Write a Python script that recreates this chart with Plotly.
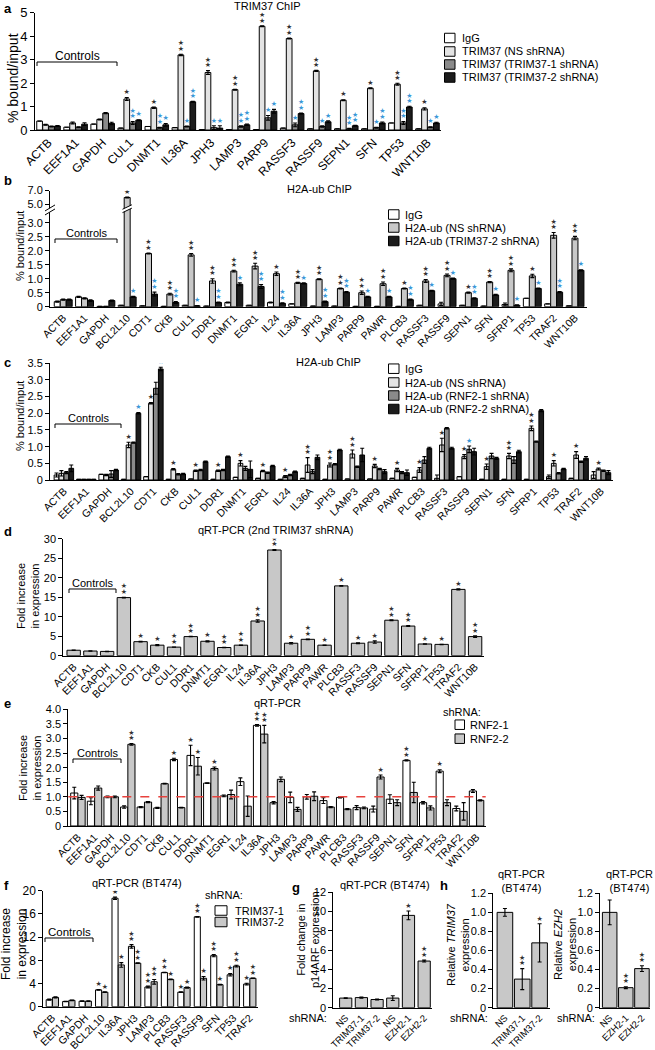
import numpy as np
import plotly.graph_objects as go

# ---------------- data ----------------
# Panel a: TRIM37 ChIP
a_cats = ["ACTB", "EEF1A1", "GAPDH", "CUL1", "DNMT1", "IL36A", "JPH3", "LAMP3", "PARP9",
          "RASSF3", "RASSF9", "SEPN1", "SFN", "TP53", "WNT10B"]
a_igg = [0.38, 0.12, 0.25, 0.08, 0.15, 0.10, 0.02, 0.02, 0.02, 0.08, 0.05, 0.05, 0.05, 0.30, 0.05]
a_ns = [0.22, 0.30, 0.45, 1.32, 0.95, 3.20, 2.45, 1.72, 4.42, 3.90, 2.52, 1.27, 1.78, 1.95, 0.90]
a_t1 = [0.15, 0.12, 0.72, 0.30, 0.10, 0.15, 0.10, 0.15, 0.52, 0.22, 0.15, 0.05, 0.10, 0.30, 0.12]
a_t2 = [0.17, 0.25, 0.28, 0.42, 0.22, 1.20, 0.08, 0.22, 0.80, 0.70, 0.35, 0.18, 0.30, 0.98, 0.30]
a_igg_err = [0.0] * 15
a_ns_err = [0.02, 0.04, 0.02, 0.06, 0.03, 0.03, 0.08, 0.02, 0.02, 0.02, 0.02, 0.02, 0.02, 0.04, 0.05]
a_t1_err = [0.02, 0.02, 0.02, 0.06, 0.02, 0.02, 0.08, 0.03, 0.10, 0.08, 0.03, 0.02, 0.02, 0.06, 0.02]
a_t2_err = [0.02, 0.06, 0.05, 0.02, 0.06, 0.02, 0.10, 0.03, 0.08, 0.02, 0.04, 0.02, 0.04, 0.03, 0.03]
a_ns_sig = ["", "", "", "*", "*", "**", "**", "**", "**", "**", "**", "*", "*", "**", "*"]
a_t1_sig = ["", "", "", "**", "**", "*", "*", "**", "*", "*", "*", "**", "*", "**", "*"]
a_t2_sig = ["", "", "", "*", "*", "**", "*", "**", "*", "**", "*", "**", "**", "**", "*"]

# Panels b, c, d, e share gene list
bc_cats = ["ACTB", "EEF1A1", "GAPDH", "BCL2L10", "CDT1", "CKB", "CUL1", "DDR1", "DNMT1", "EGR1",
           "IL24", "IL36A", "JPH3", "LAMP3", "PARP9", "PAWR", "PLCB3", "RASSF3", "RASSF9",
           "SEPN1", "SFN", "SFRP1", "TP53", "TRAF2", "WNT10B"]

# Panel b: H2A-ub ChIP (TRIM37 knockdown)
b_igg = [0.18, 0.35, 0.01, 0.05, 0.03, 0.01, 0.05, 0.02, 0.15, 0.05, 0.15, 0.10, 0.02, 0.02, 0.01,
         0.01, 0.01, 0.05, 0.10, 0.05, 0.02, 0.08, 0.30, 0.10, 0.03]
b_ns = [0.25, 0.30, 0.01, 6.00, 1.90, 0.45, 1.85, 0.92, 1.27, 1.45, 1.18, 0.85, 0.98, 0.65, 0.50,
        0.82, 0.65, 0.92, 1.12, 0.50, 0.88, 1.30, 1.10, 2.55, 2.45]
b_t2 = [0.25, 0.22, 0.22, 0.35, 0.45, 0.15, 0.03, 0.15, 0.80, 0.72, 0.12, 0.83, 0.18, 0.52, 0.35,
        0.35, 0.25, 0.57, 1.00, 0.30, 0.42, 0.05, 0.65, 0.52, 1.30]
b_igg_err = [0.02, 0.02, 0, 0, 0, 0, 0, 0, 0.02, 0, 0.02, 0, 0, 0, 0, 0, 0, 0, 0.06, 0, 0, 0.05, 0, 0, 0]
b_ns_err = [0.02, 0.02, 0, 0.05, 0.02, 0.03, 0.05, 0.08, 0.03, 0.10, 0.06, 0.02, 0.02, 0.02, 0.06,
            0.06, 0.02, 0.05, 0.05, 0.02, 0.02, 0.05, 0.06, 0.10, 0.06]
b_t2_err = [0.02, 0.03, 0.02, 0.02, 0.07, 0.03, 0.01, 0.02, 0.05, 0.07, 0.02, 0.02, 0.02, 0.02, 0.02,
            0.02, 0.02, 0.02, 0.02, 0.02, 0.02, 0.02, 0.02, 0.02, 0.02]
b_ns_sig = ["", "", "", "**", "**", "**", "**", "**", "**", "**", "*", "**", "**", "**", "**", "**",
            "*", "**", "**", "*", "**", "**", "*", "**", "**"]
b_t2_sig = ["", "", "", "*", "**", "**", "*", "**", "*", "**", "**", "*", "**", "**", "*", "*",
            "**", "*", "*", "**", "*", "*", "*", "**", "*"]

# Panel c: H2A-ub ChIP (RNF2 knockdown)
c_igg = [0.15, 0.02, 0.17, 0.02, 0.10, 0.02, 0.03, 0.02, 0.08, 0.05, 0.02, 0.05, 0.02, 0.03, 0.03,
         0.05, 0.08, 0.05, 0.10, 0.02, 0.02, 0.02, 0.10, 0.05, 0.15]
c_ns = [0.20, 0.02, 0.15, 1.05, 2.30, 0.32, 0.28, 0.28, 0.50, 0.27, 0.10, 0.45, 0.45, 0.78, 0.42,
        0.30, 0.30, 1.05, 0.70, 0.40, 0.72, 1.55, 0.50, 0.75, 0.33]
c_r1 = [0.22, 0.02, 0.18, 1.12, 2.75, 0.17, 0.30, 0.30, 0.35, 0.22, 0.15, 0.25, 0.47, 0.40, 0.33,
        0.22, 0.60, 1.55, 0.92, 0.72, 0.60, 1.15, 0.20, 0.55, 0.28]
c_r2 = [0.35, 0.02, 0.30, 2.00, 3.33, 0.18, 0.55, 0.70, 0.32, 0.42, 0.25, 0.68, 0.90, 0.75, 0.25,
        0.22, 0.95, 0.95, 0.85, 0.65, 0.85, 2.08, 0.33, 0.65, 0.22]
c_igg_err = [0.06, 0, 0, 0, 0, 0, 0, 0, 0, 0, 0, 0, 0, 0, 0, 0, 0, 0.10, 0, 0, 0, 0, 0.05, 0, 0.10]
c_ns_err = [0.08, 0, 0.02, 0.08, 0.02, 0.02, 0.02, 0.02, 0.08, 0.02, 0.03, 0.22, 0.06, 0.12, 0.05,
            0.05, 0.07, 0.20, 0.06, 0.08, 0.08, 0.07, 0.08, 0.10, 0.03]
c_r1_err = [0.03, 0, 0.10, 0.02, 0.18, 0.02, 0.02, 0.02, 0.06, 0.02, 0.02, 0.06, 0.02, 0.02, 0.02,
            0.03, 0.10, 0.02, 0.10, 0.08, 0.10, 0.02, 0.02, 0.02, 0.02]
c_r2_err = [0.10, 0, 0.02, 0.02, 0.05, 0.02, 0.02, 0.02, 0.25, 0.02, 0.02, 0.07, 0.02, 0.20, 0.06,
            0.08, 0.03, 0.03, 0.10, 0.03, 0.04, 0.03, 0.02, 0.05, 0.06]
c_ns_sig = ["", "", "", "*", "*", "*", "*", "*", "*", "*", "*", "**", "**", "**", "*", "*", "*",
            "*", "*", "*", "**", "**", "*", "*", "*"]
c_r1_sig = [""] * 18 + ["*"] + [""] * 6
c_r2_sig = ["", "", "", "*", "*"] + [""] * 20

# Panel d: qRT-PCR (2nd TRIM37 shRNA)
d_vals = [1.4, 1.2, 1.1, 14.9, 3.6, 2.7, 2.2, 4.9, 3.7, 2.1, 2.7, 8.9, 27.1, 3.2, 4.2, 2.7, 17.9,
          3.2, 3.5, 9.1, 7.6, 3.0, 2.9, 17.0, 4.9]
d_err = [0.05, 0.05, 0.05, 0.1, 0.1, 0.15, 0.05, 0.05, 0.15, 0.05, 0.05, 0.3, 0.1, 0.2, 0.1, 0.05,
         0.1, 0.1, 0.3, 0.1, 0.1, 0.05, 0.05, 0.15, 0.2]
d_sig = ["", "", "", "**", "*", "*", "**", "**", "*", "**", "**", "**", "**", "*", "**", "*", "*",
         "*", "*", "**", "**", "*", "*", "*", "**"]

# Panel e: qRT-PCR (RNF2 shRNA)
e_r1 = [1.13, 0.85, 1.00, 0.65, 0.65, 0.62, 2.28, 2.42, 1.47, 1.03, 1.52, 3.45, 0.80, 0.98, 1.00,
        0.87, 0.98, 0.63, 0.58, 0.92, 2.25, 0.80, 1.88, 0.60, 1.20]
e_r2 = [0.98, 1.30, 1.00, 2.80, 0.82, 1.45, 0.63, 2.05, 1.97, 1.08, 0.68, 3.15, 1.60, 0.57, 1.02,
        0.65, 0.58, 0.62, 1.68, 0.80, 1.15, 0.62, 0.80, 0.50, 0.88]
e_r1_err = [0.20, 0.12, 0.03, 0.04, 0.02, 0.02, 0.04, 0.35, 0.01, 0.03, 0.13, 0.03, 0.04, 0.18, 0.08,
            0.10, 0.02, 0.07, 0.10, 0.15, 0.02, 0.04, 0.05, 0.08, 0.05]
e_r2_err = [0.07, 0.07, 0.03, 0.03, 0.02, 0.01, 0.01, 0.30, 0.05, 0.15, 0.35, 0.30, 0.08, 0.07, 0.15,
            0.02, 0.02, 0.03, 0.07, 0.10, 0.35, 0.07, 0.10, 0.30, 0.02]
e_r1_sig = ["", "", "", "", "", "", "*", "*", "", "", "", "**", "", "", "", "", "", "", "", "",
            "**", "", "*", "", ""]
e_r2_sig = ["", "", "", "**", "", "", "", "*", "*", "", "", "**", "", "", "", "", "", "", "*", "",
            "", "", "", "", ""]

# Panel f: qRT-PCR (BT474)
f_cats = ["ACTB", "EEF1A1", "GAPDH", "BCL2L10", "IL36A", "JPH3", "LAMP3", "PLCB3", "RASSF3",
          "RASSF9", "SFN", "TP53", "TRAF2"]
f_t1 = [1.2, 0.9, 0.95, 2.9, 18.7, 10.4, 3.4, 5.9, 2.5, 15.5, 8.8, 5.5, 3.9]
f_t2 = [1.6, 1.1, 0.95, 2.5, 7.2, 7.5, 4.3, 4.7, 3.3, 4.9, 3.8, 7.0, 4.9]
f_t1_err = [0.1, 0.05, 0.05, 0.05, 0.2, 0.3, 0.15, 0.05, 0.05, 0.05, 0.2, 0.2, 0.15]
f_t2_err = [0.1, 0.05, 0.05, 0.05, 0.4, 0.05, 0.4, 0.05, 0.1, 0.3, 0.05, 0.15, 0.05]
f_t1_sig = ["", "", "", "*", "*", "**", "**", "**", "*", "**", "**", "*", "*"]
f_t2_sig = ["", "", "", "*", "*", "**", "**", "*", "*", "*", "*", "**", "**"]

# Panel g: p14ARF expression
g_cats = ["NS", "TRIM37-1", "TRIM37-2", "NS", "EZH2-1", "EZH2-2"]
g_vals = [1.0, 1.05, 0.85, 1.0, 9.6, 4.85]
g_err = [0.03, 0.06, 0.05, 0.25, 0.45, 0.10]
g_sig = ["", "", "", "", "*", "**"]

# Panel h: knockdown efficiency
h1_cats = ["NS", "TRIM37-1", "TRIM37-2"]
h1_vals = [1.0, 0.30, 0.68]
h1_err = [0.04, 0.11, 0.20]
h1_sig = ["", "**", "*"]
h2_cats = ["NS", "EZH2-1", "EZH2-2"]
h2_vals = [1.0, 0.21, 0.41]
h2_err = [0.13, 0.01, 0.03]
h2_sig = ["", "**", "**"]

# ---------------- styling / helpers ----------------
W, H = 655, 1050
FONT = "Arial, Liberation Sans, Helvetica, sans-serif"
STAR = "\u2605"
BLUE = "#3b98d8"
DARK = "#333333"
WHITE, VLIGHT, LIGHT, MID, BLACK = "#ffffff", "#e3e3e3", "#c8c8c8", "#8a8a8a", "#1c1c1c"

fig = go.Figure()
layout = dict(width=W, height=H, margin=dict(l=0, r=0, t=0, b=0), template="none",
              paper_bgcolor="white", plot_bgcolor="rgba(0,0,0,0)", barmode="overlay",
              showlegend=False, font=dict(family=FONT, color="black", size=11))
shapes, annots = [], []


def sid(n):
    return "" if n == 1 else str(n)


def make_axes(n, x0, x1, yb, yt, xr, yr, xticks, xtext, yticks, ytext, yfont=11, xfont=11):
    s = sid(n)
    layout["xaxis" + s] = dict(domain=[x0 / W, x1 / W], range=xr, anchor="y" + s, showline=True,
                               linecolor="black", linewidth=1, ticks="", tickmode="array",
                               tickvals=xticks, ticktext=xtext, tickangle=-45, automargin=False,
                               tickfont=dict(size=xfont, color="black", family=FONT),
                               showgrid=False, zeroline=False)
    layout["yaxis" + s] = dict(domain=[1 - yb / H, 1 - yt / H], range=yr, anchor="x" + s,
                               showline=True, linecolor="black", linewidth=1, ticks="outside",
                               ticklen=4, tickwidth=1, tickcolor="black", tickmode="array",
                               tickvals=yticks, ticktext=ytext, automargin=False,
                               tickfont=dict(size=yfont, color="black", family=FONT),
                               showgrid=False, zeroline=False)


def bars(n, xpos, vals, errs, color, width):
    s = sid(n)
    fig.add_trace(go.Bar(x=list(xpos), y=list(vals), width=width,
                         marker=dict(color=color, line=dict(color="black", width=1)),
                         error_y=dict(type="data", array=list(errs), visible=True, color="black",
                                      thickness=1.1, width=2),
                         xaxis="x" + s, yaxis="y" + s, hoverinfo="skip"))


def stars(n, xpos, tops, marks, color, ppu, size=7, gap=5.0, step=5.5):
    s = sid(n)
    xs, ys = [], []
    for x, t, m in zip(xpos, tops, marks):
        for k in range(len(m)):
            xs.append(x)
            ys.append(t + (gap + step * k) / ppu)
    if xs:
        fig.add_trace(go.Scatter(x=xs, y=ys, mode="text", text=[STAR] * len(xs),
                                 textposition="middle center",
                                 textfont=dict(size=size, color=color, family="DejaVu Sans"),
                                 xaxis="x" + s, yaxis="y" + s, hoverinfo="skip"))


def text(x, y, t, size=11, xanchor="center", yanchor="middle", angle=0, bold=False):
    annots.append(dict(x=x / W, y=1 - y / H, xref="paper", yref="paper",
                       text=("<b>%s</b>" % t) if bold else t, showarrow=False,
                       xanchor=xanchor, yanchor=yanchor, textangle=angle,
                       font=dict(size=size, color="black", family=FONT)))


def bracket(x0, x1, y, h=4):
    path = "M %f,%f L %f,%f L %f,%f L %f,%f" % (x0 / W, 1 - (y + h) / H, x0 / W, 1 - y / H,
                                                 x1 / W, 1 - y / H, x1 / W, 1 - (y + h) / H)
    shapes.append(dict(type="path", path=path, xref="paper", yref="paper",
                       line=dict(color="black", width=1)))


def lbox(x, yc, color, w=10, h=10):
    shapes.append(dict(type="rect", x0=x / W, x1=(x + w) / W, y0=1 - (yc + h / 2) / H,
                       y1=1 - (yc - h / 2) / H, xref="paper", yref="paper", fillcolor=color,
                       line=dict(color="black", width=1)))


def tops(v, e):
    return [a + b for a, b in zip(v, e)]


def fmt(vals, dec=1):
    return ["0" if v == 0 else ("%.*f" % (dec, v)) for v in vals]


# ---------------- panel a ----------------
xa = np.arange(len(a_cats))
make_axes(1, 35, 441, 130, 12.7, [-0.5, len(a_cats) - 0.5], [0, 5], list(xa), a_cats,
          [0, 1, 2, 3, 4, 5], ["0", "1", "2", "3", "4", "5"], yfont=13, xfont=12)
ppu_a = (130 - 12.7) / 5
wa = 0.21
for off, v, e, c in [(-0.33, a_igg, a_igg_err, WHITE), (-0.11, a_ns, a_ns_err, VLIGHT),
                     (0.11, a_t1, a_t1_err, MID), (0.33, a_t2, a_t2_err, BLACK)]:
    bars(1, xa + off, v, e, c, wa)
stars(1, xa - 0.11, tops(a_ns, a_ns_err), a_ns_sig, DARK, ppu_a)
stars(1, xa + 0.11, tops(a_t1, a_t1_err), a_t1_sig, BLUE, ppu_a)
stars(1, xa + 0.33, tops(a_t2, a_t2_err), a_t2_sig, BLUE, ppu_a)
text(2, 8, "a", size=13, xanchor="left", bold=True)
text(267, 6, "TRIM37 ChIP", size=11)
text(13, 78, "% bound/input", size=14, angle=-90)
bracket(37, 117, 62)
text(77, 56, "Controls", size=12)
for yc, col, lab in [(38, WHITE, "IgG"), (51.5, VLIGHT, "TRIM37 (NS shRNA)"),
                     (64.5, MID, "TRIM37 (TRIM37-1 shRNA)"), (77.5, BLACK, "TRIM37 (TRIM37-2 shRNA)")]:
    lbox(444.5, yc, col, w=10.5, h=9.5)
    text(460, yc, lab, size=11, xanchor="left")

# ---------------- panel b (broken axis) ----------------
BRK = 3.2


def brk(v):
    return v if v <= BRK else BRK + (v - BRK) * 0.25


def brk_err(v, e):
    return e if v <= BRK else e * 0.25


xb = np.arange(len(bc_cats))
ppu_b = 28.0
yb_ticks = [0, 0.5, 1.0, 1.5, 2.0, 2.5, 3.0, 5.0, 7.0]
make_axes(2, 50, 586.7, 306.7, 306.7 - brk(7.0) * ppu_b, [-0.62, len(bc_cats) - 0.45],
          [0, brk(7.0)], list(xb), bc_cats, [brk(v) for v in yb_ticks], fmt(yb_ticks), xfont=10.5)
wb = 0.28
b_series = [(-0.28, b_igg, b_igg_err, WHITE), (0.0, b_ns, b_ns_err, LIGHT), (0.28, b_t2, b_t2_err, BLACK)]
for off, v, e, c in b_series:
    bars(2, xb + off, [brk(x) for x in v], [brk_err(x, y) for x, y in zip(v, e)], c, wb)
stars(2, xb, [brk(t) for t in tops(b_ns, b_ns_err)], b_ns_sig, DARK, ppu_b)
stars(2, xb + 0.28, [brk(t) for t in tops(b_t2, b_t2_err)], b_t2_sig, BLUE, ppu_b)
# break marks on axis and on the tall bar
ya_brk = 306.7 - 3.42 * ppu_b
shapes.append(dict(type="path", xref="paper", yref="paper", fillcolor="white", line=dict(width=0),
                   path="M %f,%f L %f,%f L %f,%f L %f,%f Z" % (
                       45 / W, 1 - (ya_brk + 4) / H, 55 / W, 1 - (ya_brk - 2) / H,
                       55 / W, 1 - (ya_brk - 6) / H, 45 / W, 1 - (ya_brk) / H)))
for dy in (0, -4):
    shapes.append(dict(type="line", xref="paper", yref="paper", line=dict(color="black", width=1),
                       x0=45 / W, x1=55 / W, y0=1 - (ya_brk + 4 + dy) / H, y1=1 - (ya_brk - 2 + dy) / H))
bx = 3
shapes.append(dict(type="path", xref="x2", yref="y2", fillcolor="white", line=dict(width=0),
                   path="M %f,%f L %f,%f L %f,%f L %f,%f Z" % (bx - 0.22, 3.36, bx + 0.22, 3.52,
                                                              bx + 0.22, 3.64, bx - 0.22, 3.48)))
for y0, y1 in [(3.36, 3.52), (3.48, 3.64)]:
    shapes.append(dict(type="line", xref="x2", yref="y2", line=dict(color="black", width=1),
                       x0=bx - 0.22, x1=bx + 0.22, y0=y0, y1=y1))
text(2, 180, "b", size=13, xanchor="left", bold=True)
text(319, 189, "H2A-ub ChIP", size=11)
text(20, 246, "% bound/input", size=11, angle=-90)
bracket(55, 117, 239)
text(86, 233, "Controls", size=11)
for yc, col, lab in [(214.5, WHITE, "IgG"), (227.5, LIGHT, "H2A-ub (NS shRNA)"),
                     (241, BLACK, "H2A-ub (TRIM37-2 shRNA)")]:
    lbox(388.5, yc, col, w=10.5, h=9.5)
    text(403, yc, lab, size=11, xanchor="left")

# ---------------- panel c ----------------
ppu_c = (480 - 363.3) / 3.5
yc_ticks = [0, 0.5, 1.0, 1.5, 2.0, 2.5, 3.0, 3.5]
make_axes(3, 50, 613.3, 480, 363.3, [-0.62, len(bc_cats) - 0.45], [0, 3.5], list(xb), bc_cats,
          yc_ticks, fmt(yc_ticks), xfont=10.5)
wc = 0.21
for off, v, e, c in [(-0.33, c_igg, c_igg_err, WHITE), (-0.11, c_ns, c_ns_err, VLIGHT),
                     (0.11, c_r1, c_r1_err, MID), (0.33, c_r2, c_r2_err, BLACK)]:
    bars(3, xb + off, v, e, c, wc)
stars(3, xb - 0.11, tops(c_ns, c_ns_err), c_ns_sig, DARK, ppu_c)
stars(3, xb + 0.11, tops(c_r1, c_r1_err), c_r1_sig, BLUE, ppu_c)
stars(3, xb + 0.33, tops(c_r2, c_r2_err), c_r2_sig, BLUE, ppu_c)
text(2, 362, "c", size=13, xanchor="left", bold=True)
text(328, 362, "H2A-ub ChIP", size=11)
text(20, 416, "% bound/input", size=11, angle=-90)
bracket(55, 121, 424)
text(88, 418, "Controls", size=11)
for yc, col, lab in [(368.7, WHITE, "IgG"), (382.5, VLIGHT, "H2A-ub (NS shRNA)"),
                     (395.5, MID, "H2A-ub (RNF2-1 shRNA)"), (409, BLACK, "H2A-ub (RNF2-2 shRNA)")]:
    lbox(388.5, yc, col, w=10.5, h=9.5)
    text(403, yc, lab, size=11, xanchor="left")

# ---------------- panel d ----------------
ppu_d = (655.7 - 538.7) / 30
make_axes(4, 63.3, 484.3, 655.7, 538.7, [-0.62, len(bc_cats) - 0.45], [0, 30], list(xb), bc_cats,
          [0, 5, 10, 15, 20, 25, 30], ["0", "5", "10", "15", "20", "25", "30"], xfont=10.5)
bars(4, xb, d_vals, d_err, LIGHT, 0.8)
stars(4, xb, tops(d_vals, d_err), d_sig, DARK, ppu_d)
text(2, 531, "d", size=13, xanchor="left", bold=True)
text(275, 530, "qRT-PCR (2nd TRIM37 shRNA)", size=11)
text(28, 596, "Fold increase<br>in expression", size=11, angle=-90)
bracket(69, 116, 589)
text(92, 583, "Controls", size=11)

# ---------------- panel e ----------------
ppu_e = (826 - 709.3) / 4
ye_ticks = [0, 0.5, 1.0, 1.5, 2.0, 2.5, 3.0, 3.5, 4.0]
make_axes(5, 68.3, 485.7, 826, 709.3, [-0.58, len(bc_cats) - 0.45], [0, 4], list(xb), bc_cats,
          ye_ticks, fmt(ye_ticks), xfont=10.5)
bars(5, xb - 0.22, e_r1, e_r1_err, WHITE, 0.43)
bars(5, xb + 0.22, e_r2, e_r2_err, LIGHT, 0.43)
stars(5, xb - 0.22, tops(e_r1, e_r1_err), e_r1_sig, DARK, ppu_e)
stars(5, xb + 0.22, tops(e_r2, e_r2_err), e_r2_sig, DARK, ppu_e)
shapes.append(dict(type="line", xref="x5 domain", yref="y5", x0=0, x1=1, y0=1, y1=1,
                   line=dict(color="#e8423d", width=1.6, dash="dash"), layer="above"))
text(2, 703, "e", size=13, xanchor="left", bold=True)
text(277, 703, "qRT-PCR", size=11)
text(30, 768, "Fold increase<br>in expression", size=11, angle=-90)
bracket(73, 121, 759)
text(97, 753, "Controls", size=11)
text(441, 712, "shRNA:", size=11, xanchor="left")
for yc, col, lab in [(724.7, WHITE, "RNF2-1"), (738.7, LIGHT, "RNF2-2")]:
    lbox(455, yc, col, w=9.5, h=9.5)
    text(468, yc, lab, size=11, xanchor="left")

# ---------------- panel f ----------------
xf = np.arange(len(f_cats))
ppu_f = (1006.7 - 890.7) / 20
make_axes(6, 43.3, 258, 1006.7, 890.7, [-0.55, len(f_cats) - 0.5], [0, 20], list(xf), f_cats,
          [0, 4, 8, 12, 16, 20], ["0", "4", "8", "12", "16", "20"], yfont=12, xfont=10.5)
bars(6, xf - 0.19, f_t1, f_t1_err, WHITE, 0.37)
bars(6, xf + 0.19, f_t2, f_t2_err, LIGHT, 0.37)
stars(6, xf - 0.19, tops(f_t1, f_t1_err), f_t1_sig, DARK, ppu_f)
stars(6, xf + 0.19, tops(f_t2, f_t2_err), f_t2_sig, DARK, ppu_f)
text(2, 885, "f", size=13, xanchor="left", bold=True)
text(137, 883, "qRT-PCR (BT474)", size=11)
text(14, 944, "Fold increase<br>in expression", size=12, angle=-90)
bracket(45, 93, 938)
text(69, 932, "Controls", size=11.5)
text(203, 895, "shRNA:", size=11, xanchor="left")
for yc, col, lab in [(910.5, WHITE, "TRIM37-1"), (922, LIGHT, "TRIM37-2")]:
    lbox(215, yc, col, w=12, h=9.5)
    text(233, yc, lab, size=11, xanchor="left")

# ---------------- panel g ----------------
xg = np.arange(len(g_cats))
ppu_g = (1007.7 - 892.3) / 12
make_axes(7, 333.3, 431.7, 1007.7, 892.3, [-0.79, len(g_cats) - 0.52], [0, 12], list(xg), g_cats,
          [0, 2, 4, 6, 8, 10, 12], ["0", "2", "4", "6", "8", "10", "12"], xfont=9.5)
bars(7, xg, g_vals, g_err, LIGHT, 0.78)
stars(7, xg, tops(g_vals, g_err), g_sig, DARK, ppu_g)
text(290, 887, "g", size=13, xanchor="left", bold=True)
text(385, 885, "qRT-PCR (BT474)", size=11)
text(308, 940, "Fold change in<br>p14ARF expression", size=11, angle=-90)
text(329, 1018, "shRNA:", size=11, xanchor="right")

# ---------------- panel h ----------------
ppu_h = (1007.7 - 893.3) / 1.2
yh_ticks = [0, 0.2, 0.4, 0.6, 0.8, 1.0, 1.2]
xh1 = np.arange(len(h1_cats))
make_axes(8, 493.3, 550, 1007.7, 893.3, [-0.67, len(h1_cats) - 0.4], [0, 1.2], list(xh1), h1_cats,
          yh_ticks, fmt(yh_ticks), xfont=9.5)
bars(8, xh1, h1_vals, h1_err, LIGHT, 0.9)
stars(8, xh1, tops(h1_vals, h1_err), h1_sig, DARK, ppu_h)
xh2 = np.arange(len(h2_cats))
make_axes(9, 600, 650, 1007.7, 893.3, [-0.6, len(h2_cats) - 0.5], [0, 1.2], list(xh2), h2_cats,
          yh_ticks, fmt(yh_ticks), xfont=9.5)
bars(9, xh2, h2_vals, h2_err, LIGHT, 0.9)
stars(9, xh2, tops(h2_vals, h2_err), h2_sig, DARK, ppu_h)
text(438, 885, "h", size=13, xanchor="left", bold=True)
text(521, 881, "qRT-PCR<br>(BT474)", size=11)
text(629, 881, "qRT-PCR<br>(BT474)", size=11)
text(458, 945, "Relative <i>TRIM37</i><br>expression", size=11, angle=-90)
text(565, 945, "Relative <i>EZH2</i><br>expression", size=11, angle=-90)
text(490, 1018, "shRNA:", size=11, xanchor="right")
text(597, 1018, "shRNA:", size=11, xanchor="right")

layout["shapes"] = shapes
layout["annotations"] = annots
fig.update_layout(**layout)
fig.write_html("out.html", config={"displayModeBar": False, "staticPlot": True},
               post_script="document.body.style.margin='0px';document.body.style.padding='0px';"
                           "document.body.style.overflow='hidden';")
